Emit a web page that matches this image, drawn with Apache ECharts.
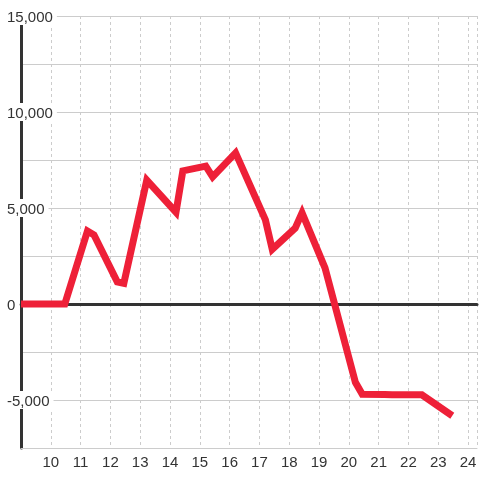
<!DOCTYPE html>
<html>
<head>
<meta charset="utf-8">
<script src="https://cdn.jsdelivr.net/npm/echarts@6/dist/echarts.min.js"></script>
<style>
html,body{margin:0;padding:0;background:#fff;}
#chart{width:480px;height:480px;}
</style>
</head>
<body>
<div id="chart"></div>
<script>
// Hours of day (decimal) and values
const hours = [9, 10.47, 11.23, 11.45, 12.23, 12.45, 13.22, 14.2, 14.43, 15.2, 15.43, 16.2, 17.2, 17.43, 18.2, 18.43, 19.2, 20.22, 20.45, 21.2, 21.45, 22.2, 22.45, 23.47];
const values = [0, 0, 3800, 3600, 1150, 1080, 6450, 4780, 6930, 7180, 6620, 7870, 4380, 2850, 3950, 4750, 1880, -4080, -4700, -4720, -4730, -4730, -4730, -5820];
const xTicks = [10, 11, 12, 13, 14, 15, 16, 17, 18, 19, 20, 21, 22, 23, 24];
const yLabelTicks = [-5000, 0, 5000, 10000, 15000];

const FONT = "'Liberation Sans', Arial, sans-serif";
const chart = echarts.init(document.getElementById('chart'));
const seriesData = hours.map((h, i) => [h, values[i]]);

chart.setOption({
  animation: false,
  backgroundColor: '#ffffff',
  grid: { left: 21, right: 0, top: 16, bottom: 32, containLabel: false },
  xAxis: [{
    type: 'value', min: 9, max: 24.3, interval: 1,
    axisLine: { show: true, onZero: false, lineStyle: { color: '#cccccc', width: 1 } },
    axisTick: { show: false },
    axisLabel: {
      color: '#333333', fontSize: 15, fontFamily: FONT, margin: 7,
      formatter: v => xTicks.indexOf(v) >= 0 ? String(v) : ''
    },
    splitLine: { show: true, lineStyle: { color: '#cccccc', type: [3, 3], width: 1 } }
  }, {
    type: 'value', min: 9, max: 24.3, interval: 1, position: 'bottom',
    axisLine: { show: true, onZero: true, lineStyle: { color: '#333333', width: 3 } },
    axisTick: { show: false }, axisLabel: { show: false }, splitLine: { show: false }
  }],
  yAxis: {
    type: 'value', min: -7500, max: 15000, interval: 2500,
    axisLine: { show: true, lineStyle: { color: '#333333', width: 3 } },
    axisTick: { show: false },
    axisLabel: {
      margin: 14, align: 'left',
      formatter: v => yLabelTicks.indexOf(v) >= 0 ? '{a|' + v.toLocaleString('en-US') + '}' : '',
      rich: { a: { color: '#333333', fontSize: 15, fontFamily: FONT, backgroundColor: '#ffffff', padding: [3, 4, 0, 0] } }
    },
    splitLine: { show: true, lineStyle: { color: '#cccccc', width: 1 } }
  },
  series: [{
    type: 'line', xAxisIndex: 0, data: seriesData, symbol: 'none', z: 3,
    clip: false,
    lineStyle: { color: '#ee2038', width: 7, join: 'miter' }
  }]
});
</script>
</body>
</html>
